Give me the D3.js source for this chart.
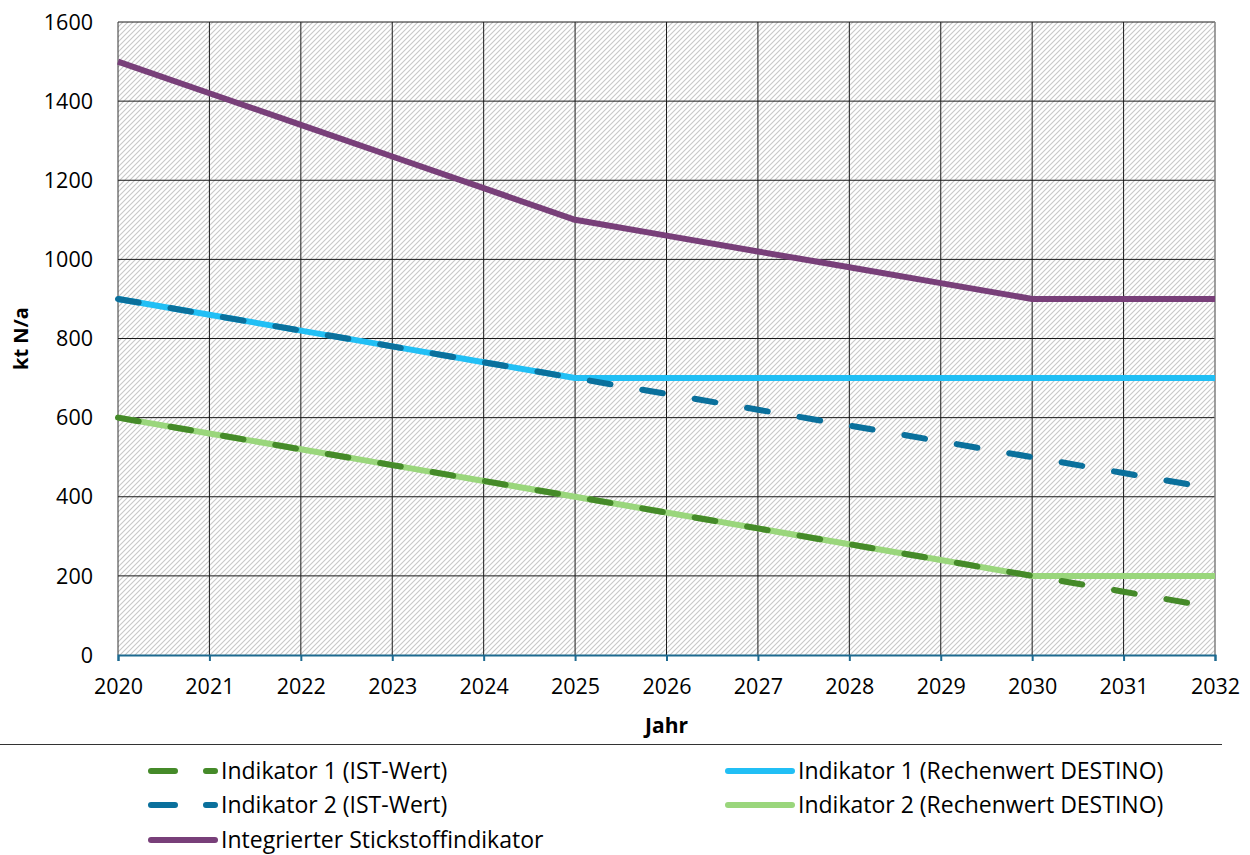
<!DOCTYPE html>
<html>
<head>
<meta charset="utf-8">
<script src="https://cdn.jsdelivr.net/npm/d3@7"></script>
<style>
  body { margin: 0; background: #fff; }
  text { font-family: "Open Sans", "Noto Sans", sans-serif; fill: #000; }
</style>
</head>
<body>
<svg id="chart" width="1250" height="855"></svg>
<script>
// Data
const years = [2020, 2021, 2022, 2023, 2024, 2025, 2026, 2027, 2028, 2029, 2030, 2031, 2032];
const yTicks = [0, 200, 400, 600, 800, 1000, 1200, 1400, 1600];
const ind1Ist = [600, 560, 520, 480, 440, 400, 360, 320, 280, 240, 200, 160, 120];
const ind2Ist = [900, 860, 820, 780, 740, 700, 660, 620, 580, 540, 500, 460, 420];
const integriert = [1500, 1420, 1340, 1260, 1180, 1100, 1060, 1020, 980, 940, 900, 900, 900];
const ind1Rechen = [900, 860, 820, 780, 740, 700, 700, 700, 700, 700, 700, 700, 700];
const ind2Rechen = [600, 560, 520, 480, 440, 400, 360, 320, 280, 240, 200, 200, 200];

const series = [
  { name: 'Integrierter Stickstoffindikator', values: integriert, color: '#783f79', dash: null },
  { name: 'Indikator 1 (Rechenwert DESTINO)', values: ind1Rechen, color: '#21bff5', dash: null },
  { name: 'Indikator 2 (Rechenwert DESTINO)', values: ind2Rechen, color: '#9ad67c', dash: null },
  { name: 'Indikator 1 (IST-Wert)', values: ind1Ist, color: '#458a29', dash: '21,32.2' },
  { name: 'Indikator 2 (IST-Wert)', values: ind2Ist, color: '#0a709c', dash: '21,32.2' }
];

const svg = d3.select('#chart');
const plot = { left: 118, right: 1215, top: 22, bottom: 655 };

const x = d3.scaleLinear().domain([2020, 2032]).range([plot.left, plot.right]);
const y = d3.scaleLinear().domain([0, 1600]).range([plot.bottom, plot.top]);

// Hatch pattern
const defs = svg.append('defs');
const pattern = defs.append('pattern')
  .attr('id', 'hatch')
  .attr('width', 5)
  .attr('height', 5)
  .attr('patternUnits', 'userSpaceOnUse');
pattern.append('rect').attr('width', 5).attr('height', 5).attr('fill', '#fff');
pattern.append('path')
  .attr('d', 'M-1,1 L1,-1 M0,5 L5,0 M4,6 L6,4')
  .attr('stroke', '#c8c8c8')
  .attr('stroke-width', 1.1);

svg.append('rect')
  .attr('x', plot.left).attr('y', plot.top)
  .attr('width', plot.right - plot.left)
  .attr('height', plot.bottom - plot.top)
  .attr('fill', 'url(#hatch)');

// Grid
svg.append('g')
  .selectAll('line')
  .data(yTicks.slice(1))
  .join('line')
  .attr('x1', plot.left).attr('x2', plot.right)
  .attr('y1', d => y(d)).attr('y2', d => y(d))
  .attr('stroke', '#1a1a1a').attr('stroke-width', 1);

svg.append('g')
  .selectAll('line')
  .data(years.slice(1))
  .join('line')
  .attr('x1', d => x(d)).attr('x2', d => x(d))
  .attr('y1', plot.top).attr('y2', plot.bottom)
  .attr('stroke', d => d === 2032 ? '#7f7f7f' : '#1a1a1a')
  .attr('stroke-width', d => d === 2032 ? 1.5 : 1);

// Left border
svg.append('line')
  .attr('x1', plot.left).attr('x2', plot.left)
  .attr('y1', plot.top).attr('y2', plot.bottom)
  .attr('stroke', '#333').attr('stroke-width', 1);

// Y axis labels
svg.append('g')
  .selectAll('text')
  .data(yTicks)
  .join('text')
  .attr('x', plot.left - 25)
  .attr('y', d => y(d))
  .attr('dy', '0.36em')
  .attr('text-anchor', 'end')
  .attr('font-size', 21.5)
  .text(d => d);

// Lines
const line = d3.line()
  .x((d, i) => x(years[i]))
  .y(d => y(d));

svg.append('g')
  .selectAll('path')
  .data(series)
  .join('path')
  .attr('d', d => line(d.values))
  .attr('fill', 'none')
  .attr('stroke', d => d.color)
  .attr('stroke-width', 6)
  .attr('stroke-linecap', d => d.dash ? 'round' : 'butt')
  .attr('stroke-linejoin', 'round')
  .attr('stroke-dasharray', d => d.dash);

// X axis
const xAxis = svg.append('g')
  .attr('transform', `translate(0,${plot.bottom})`)
  .call(d3.axisBottom(x).tickValues(years).tickFormat(d3.format('d')).tickSize(6).tickPadding(18));
xAxis.select('.domain').attr('stroke', '#1d6a90').attr('stroke-width', 2);
xAxis.selectAll('.tick line').attr('stroke', '#1d6a90').attr('stroke-width', 2);
xAxis.selectAll('.tick text')
  .attr('font-size', 21.5)
  .attr('font-family', '"Open Sans", "Noto Sans", sans-serif')
  .attr('fill', '#000');

// Axis titles
svg.append('text')
  .attr('transform', `translate(28,${(plot.top + plot.bottom) / 2}) rotate(-90)`)
  .attr('text-anchor', 'middle')
  .attr('font-size', 20)
  .attr('font-weight', 'bold')
  .text('kt N/a');

svg.append('text')
  .attr('x', (plot.left + plot.right) / 2)
  .attr('y', 733)
  .attr('text-anchor', 'middle')
  .attr('font-size', 21)
  .attr('font-weight', 'bold')
  .text('Jahr');

// Separator
svg.append('line')
  .attr('x1', 0).attr('x2', 1222)
  .attr('y1', 744.5).attr('y2', 744.5)
  .attr('stroke', '#333').attr('stroke-width', 1);

// Legend
const legendItems = [
  { s: series[3], col: 0, row: 0 },
  { s: series[4], col: 0, row: 1 },
  { s: series[0], col: 0, row: 2 },
  { s: series[1], col: 1, row: 0 },
  { s: series[2], col: 1, row: 1 }
];
const colX = [148, 725];
const rowY = [771, 805, 840];

const legend = svg.append('g')
  .selectAll('g')
  .data(legendItems)
  .join('g')
  .attr('transform', d => `translate(${colX[d.col]},${rowY[d.row]})`);

legend.append('line')
  .attr('x1', 3).attr('x2', 67)
  .attr('y1', 0).attr('y2', 0)
  .attr('stroke', d => d.s.color)
  .attr('stroke-width', 6)
  .attr('stroke-linecap', 'round')
  .attr('stroke-dasharray', d => d.s.dash ? '24,31' : null);

legend.append('text')
  .attr('x', 73)
  .attr('y', 0)
  .attr('dy', '0.36em')
  .attr('font-size', 23)
  .text(d => d.s.name);
</script>
</body>
</html>
